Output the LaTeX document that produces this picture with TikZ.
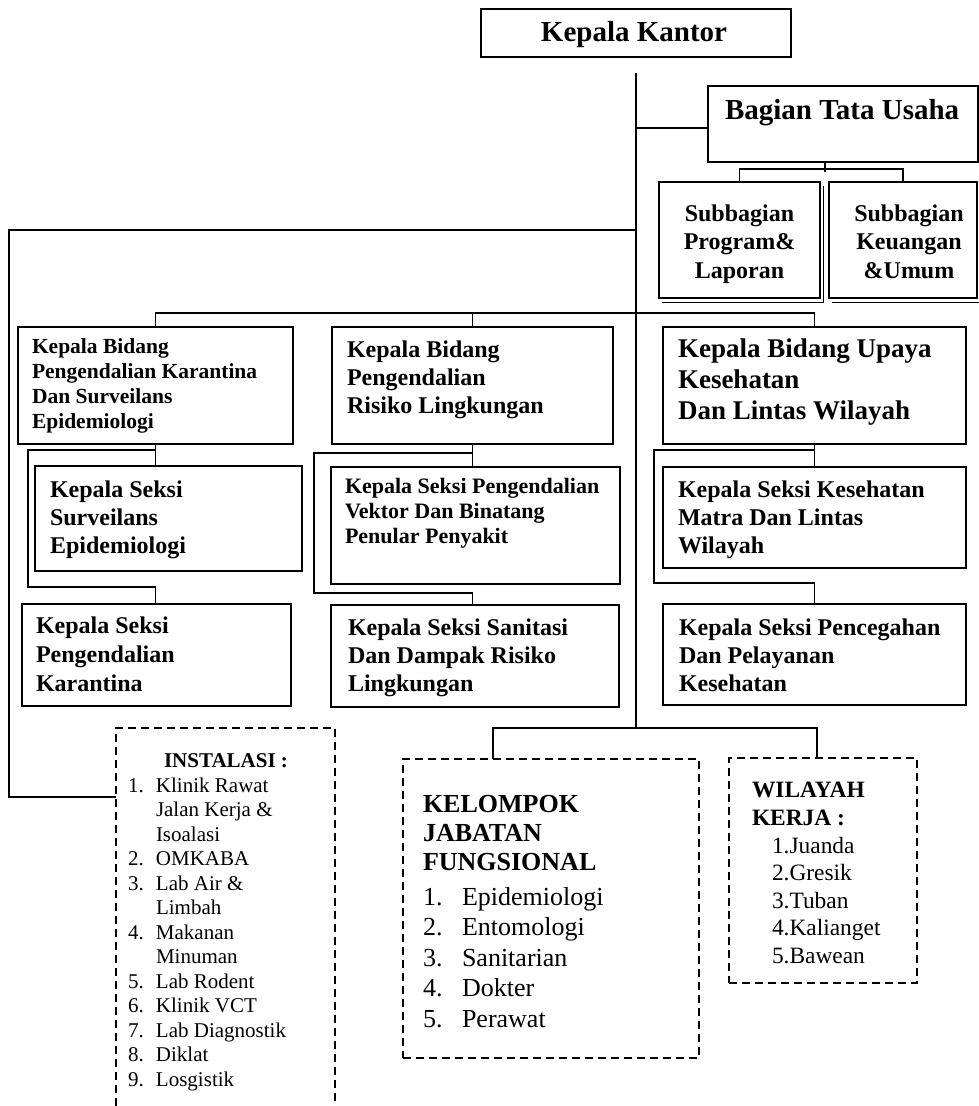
\documentclass[tikz,border=0pt]{standalone}
\usepackage{fontspec}
\setmainfont{Liberation Serif}
\newcommand\ml[4]{\vtop{\fontsize{#1pt}{#2pt}\selectfont#3\halign{##\hfil\cr#4\crcr}}}
\newcommand\mlc[4]{\vtop{\fontsize{#1pt}{#2pt}\selectfont#3\halign{\hfil##\hfil\cr#4\crcr}}}
\newcommand\lst[4]{\vtop{\fontsize{#1pt}{#2pt}\selectfont\halign{\hbox to #3pt{##\hfil}&##\hfil\cr#4\crcr}}}
\newcommand\bx[6][box]{\node[#1,anchor=north west,minimum width={#5pt-#3pt},minimum height={#6pt-#4pt}] (#2) at (#3,#4) {};}
\begin{document}
\begin{tikzpicture}[x=1pt,y=-1pt,
 box/.style={draw,line width=1.3pt,inner sep=0pt,outer sep=0pt},
 thickbox/.style={draw,line width=2.3pt,inner sep=0pt,outer sep=0pt},
 nobox/.style={inner sep=0pt,outer sep=0pt},
 dnode/.style={draw,line width=1.8pt,dash pattern=on 8pt off 5pt,inner sep=0pt,outer sep=0pt},
 conn/.style={line width=1.3pt},
 dline/.style={line width=1.8pt,dash pattern=on 8pt off 5pt},
 shad/.style={line width=1pt},
 txt/.style={inner sep=0pt,outer sep=0pt,anchor=base west},
 ctxt/.style={inner sep=0pt,outer sep=0pt,anchor=base}]
\useasboundingbox (0,0) rectangle (979,1106);
% boxes
\bx{kk}{481}{9}{791}{57}
\bx{btu}{708}{86}{978}{162}
\draw[shad] ([shift={(3,4)}]659,298) -| ([shift={(3,4)}]820,182);
\draw[shad] ([shift={(3,4)}]829,298) -| ([shift={(3,4)}]977,182);
\bx[thickbox]{sp1}{659}{182}{820}{298}
\bx[thickbox]{sp2}{829}{182}{977}{298}
\bx{kb1}{18}{327}{293}{444}
\bx{kb2}{332}{327}{613}{444}
\bx{kb3}{663}{327}{966}{444}
\bx{ks1a}{35}{466}{302}{571}
\bx{ks1b}{22}{604}{291}{706}
\bx{ks2a}{331}{467}{620}{584}
\bx{ks2b}{331}{605}{619}{707}
\bx{ks3a}{663}{467}{966}{568}
\bx{ks3b}{663}{604}{966}{705}
\bx[nobox]{inst}{116}{728}{335}{1106}
\bx[dnode]{kjf}{403}{759}{699}{1058}
\bx[dnode]{wk}{729}{758}{917}{983}
\draw[dline] (inst.south west) -- (inst.north west) -- (inst.north east) -- (inst.south east);
% connectors
\coordinate (stop) at (636,73);
\coordinate (sbot) at (636,728);
\coordinate (j1) at (636,128);
\coordinate (j2) at (636,230);
\coordinate (lft) at (9,230);
\coordinate (tb) at (825,172);
\coordinate (kl) at (493,728);
\coordinate (kr) at (817,728);
\draw[conn] (stop) -- (sbot);
\draw[conn] (j1) -- (btu.west |- j1);
\draw[conn] (btu.south -| tb) -- (tb);
\draw[conn] (sp1.north) |- (sp2.north |- 0,169) -- (sp2.north);
\draw[conn] (j2) -- (lft) |- (inst.north west |- 0,797);
\draw[conn] (kb1.north) |- (kb3.north |- 0,313) -- (kb3.north);
\draw[conn] (kb2.north) -- (kb2.north |- 0,313);
\draw[conn] (kb1.south) -- (kb1.south |- ks1a.north);
\draw[conn] (kb1.south |- 0,450) -| (28,587) -| (kb1.south |- ks1b.north);
\draw[conn] (kb2.south) -- (kb2.south |- ks2a.north);
\draw[conn] (kb2.south |- 0,453) -| (314,593) -| (kb2.south |- ks2b.north);
\draw[conn] (kb3.south) -- (kb3.south |- ks3a.north);
\draw[conn] (kb3.south |- 0,450) -| (654,583) -| (kb3.south |- ks3b.north);
\draw[conn] (kl |- kjf.north) -- (kl) -- (kr) -- (kr |- wk.north);
% texts
\node[ctxt] (tkk) at (634,41.5) {\fontsize{29pt}{34pt}\selectfont\bfseries Kepala Kantor};
\node[txt] (tbtu) at (725,119) {\fontsize{29pt}{34pt}\selectfont\bfseries Bagian Tata Usaha};
\node[ctxt] (tsp1) at (739.5,221) {\mlc{24}{28.5}{\bfseries}{Subbagian\cr Program\&\cr Laporan}};
\node[ctxt] (tsp2) at (909,221) {\mlc{24}{28.5}{\bfseries}{Subbagian\cr Keuangan\cr \&Umum}};
\node[txt] (tkb1) at (32,353) {\ml{21.5}{25.3}{\bfseries}{Kepala Bidang\cr Pengendalian Karantina\cr Dan Surveilans\cr Epidemiologi}};
\node[txt] (tkb2) at (347,357) {\ml{24}{28}{\bfseries}{Kepala Bidang\cr Pengendalian\cr Risiko Lingkungan}};
\node[txt] (tkb3) at (678,357) {\ml{27}{31}{\bfseries}{Kepala Bidang Upaya\cr Kesehatan\cr Dan Lintas Wilayah}};
\node[txt] (tks1a) at (50,497) {\ml{24}{28}{\bfseries}{Kepala Seksi\cr Surveilans\cr Epidemiologi}};
\node[txt] (tks1b) at (36,633) {\ml{24}{29}{\bfseries}{Kepala Seksi\cr Pengendalian\cr Karantina}};
\node[txt] (tks2a) at (345,493) {\ml{22}{25}{\bfseries}{Kepala Seksi Pengendalian\cr Vektor Dan Binatang\cr Penular Penyakit}};
\node[txt] (tks2b) at (348,635) {\ml{24}{28}{\bfseries}{Kepala Seksi Sanitasi\cr Dan Dampak Risiko\cr Lingkungan}};
\node[txt] (tks3a) at (678,497) {\ml{24}{28}{\bfseries}{Kepala Seksi Kesehatan\cr Matra Dan Lintas\cr Wilayah}};
\node[txt] (tks3b) at (679,635) {\ml{24}{28}{\bfseries}{Kepala Seksi Pencegahan\cr Dan Pelayanan\cr Kesehatan}};
\node[ctxt] (tih) at (226,767) {\fontsize{21pt}{24pt}\selectfont\bfseries INSTALASI :};
\node[txt] (til) at (128,792) {\lst{21}{24.5}{28}{1.&Klinik Rawat\cr &Jalan Kerja \&\cr &Isoalasi\cr 2.&OMKABA\cr 3.&Lab Air \&\cr &Limbah\cr 4.&Makanan\cr &Minuman\cr 5.&Lab Rodent\cr 6.&Klinik VCT\cr 7.&Lab Diagnostik\cr 8.&Diklat\cr 9.&Losgistik}};
\node[txt] (tkh) at (423,812) {\ml{26}{29}{\bfseries}{KELOMPOK\cr JABATAN\cr FUNGSIONAL}};
\node[txt] (tkl) at (423,905) {\lst{26}{30.5}{39}{1.&Epidemiologi\cr 2.&Entomologi\cr 3.&Sanitarian\cr 4.&Dokter\cr 5.&Perawat}};
\node[txt] (twh) at (752,797) {\ml{23.4}{28}{\bfseries}{WILAYAH\cr KERJA :}};
\node[txt] (twl) at (772,853) {\ml{23.4}{27.5}{}{1.Juanda\cr 2.Gresik\cr 3.Tuban\cr 4.Kalianget\cr 5.Bawean}};
\end{tikzpicture}
\end{document}
